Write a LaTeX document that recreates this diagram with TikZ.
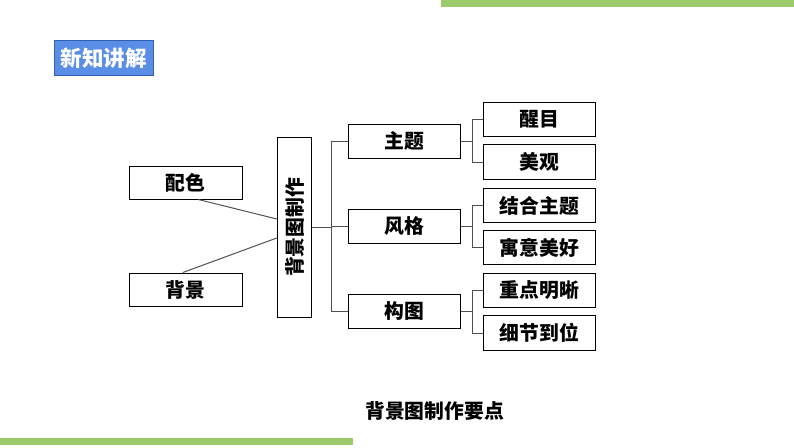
\documentclass[tikz,border=0pt]{standalone}
\usepackage{fontspec}
\newfontfamily\cjk{Noto Sans CJK SC}
\usetikzlibrary{calc}
\definecolor{barGreen}{RGB}{155,203,107}
\definecolor{hdrFill}{RGB}{90,142,230}
\definecolor{hdrLine}{RGB}{50,95,175}
\definecolor{conGray}{RGB}{80,80,80}
\tikzset{
  boxfont/.style={font=\cjk\bfseries\fontsize{19.8}{22}\selectfont},
  box/.style={draw=black, line width=1pt, fill=white, inner sep=0pt,
    minimum width=112.4pt, minimum height=34.3pt, boxfont},
  con/.style={draw=conGray, line width=1pt},
}
\begin{document}
\begin{tikzpicture}[x=1pt,y=-1pt]
\useasboundingbox (0,0) rectangle (794,447);
% decorative bars
\fill[barGreen] (440.5,0) rectangle (794,6.7) coordinate (topbar);
\fill[barGreen] (0,437.5) rectangle (353,445) coordinate (botbar);
% header
\node[draw=hdrLine, line width=0.9pt, fill=hdrFill, inner sep=0pt,
  minimum width=99pt, minimum height=35pt, text=white,
  font=\cjk\bfseries\fontsize{21.5}{23}\selectfont] (hdr) at (103.8,58.2) {新知讲解};
% left boxes
\node[box, minimum width=113pt, minimum height=33pt] (pei) at (185.5,182.5) {配色};
\node[box, minimum width=113pt, minimum height=33pt] (bj) at (185.5,289.5) {背景};
% central box
\node[box, minimum width=34.4pt, minimum height=180pt] (cen) at (294.5,227.3) {};
\node[boxfont, rotate=90, inner sep=0pt] (centxt) at (cen.center) {背景图制作};
% level 2
\node[box] (zt) at (404.5,141.2) {主题};
\node[box] (fg) at (404.5,226.3) {风格};
\node[box] (gt) at (404.5,311.3) {构图};
% level 3
\node[box] (xm) at (539.5,119.5) {醒目};
\node[box] (mg) at (539.5,162.0) {美观};
\node[box] (jh) at (539.5,205.5) {结合主题};
\node[box] (yy) at (539.5,247.8) {寓意美好};
\node[box] (zd) at (539.5,290.3) {重点明晰};
\node[box] (xj) at (539.5,333.0) {细节到位};
% caption
\node[boxfont, inner sep=0pt] (cap) at (434.5,411) {背景图制作要点};
% connectors
\draw[con] (pei.-53) -- ($(cen.west)+(0,-8.3)$);
\draw[con] (bj.99) -- ($(cen.west)+(0,10.7)$);
\draw[con] (cen.east) -- ++(19,0) coordinate (bus);
\draw[con] (zt.west) -| (bus) |- (gt.west);
\draw[con] (fg.west) -- (fg.west -| bus);
\draw[con] (zt.east) -- ++(11,0) coordinate (s1);
\draw[con] (xm.west) -| (s1) |- (mg.west);
\draw[con] (fg.east) -- ++(11,0) coordinate (s2);
\draw[con] (jh.west) -| (s2) |- (yy.west);
\draw[con] (gt.east) -- ++(11,0) coordinate (s3);
\draw[con] (zd.west) -| (s3) |- (xj.west);
\end{tikzpicture}
\end{document}
